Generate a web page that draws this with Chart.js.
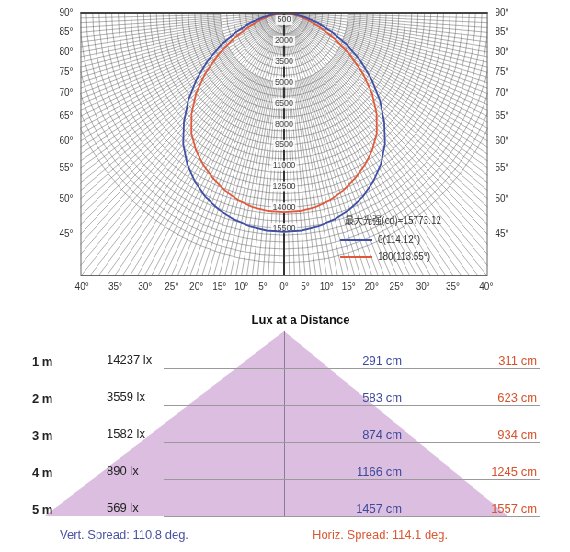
<!DOCTYPE html>
<html>
<head>
<meta charset="utf-8">
<script src="https://cdn.jsdelivr.net/npm/chart.js@4.4.1/dist/chart.umd.min.js"></script>
<style>
  html, body { margin: 0; padding: 0; background: #fff; overflow: hidden; }
  /* the source picture is squeezed horizontally, so draw wide and squeeze */
  #wrap { position: absolute; left: 0; top: 0; width: 620px; height: 552px; overflow: hidden;
          transform: scaleX(0.91935); transform-origin: 0 0; }
  #polar { position: absolute; left: -38px; top: -334px; width: 694px; height: 694px; }
  #lux { position: absolute; left: 0; top: 300px; width: 620px; height: 252px; }
</style>
</head>
<body>
<div id="wrap">
  <canvas id="polar" width="694" height="694"></canvas>
  <canvas id="lux" width="620" height="252"></canvas>
</div>
<script>
// polar curves, cd by angle from nadir
const angles = [0, 5, 10, 15, 20, 25, 30, 35, 40, 45, 50, 55, 60, 65, 70, 75, 80, 85, 90];
const c0Cd   = [15773, 15730, 15600, 15380, 15050, 14600, 14000, 13250, 12300, 11100, 9800, 8400, 6950, 5450, 4000, 2750, 1700, 800, 100];
const c180Cd = [14350, 14320, 14200, 13950, 13600, 13150, 12650, 12050, 11300, 10250, 9000, 7500, 5900, 4350, 3000, 1950, 1150, 550, 80];
const maxCd = 15773.12;
const beamC0 = '114.12', beamC180 = '113.55';
const radialLabels = [500, 2000, 3500, 5000, 6500, 8000, 9500, 11000, 12500, 14000, 15500];
const sideAngles = [90, 85, 80, 75, 70, 65, 60, 55, 50, 45];
const bottomAngles = [40, 35, 30, 25, 20, 15, 10, 5, 0];

// lux at a distance table
const distances = [1, 2, 3, 4, 5];
const luxValues = [14237, 3559, 1582, 890, 569];
const vertCm = [291, 583, 874, 1166, 1457];
const horizCm = [311, 623, 934, 1245, 1557];
const vertSpread = '110.8', horizSpread = '114.1';

const FONT = '"Liberation Sans", Arial, sans-serif';
const gridCol = 'rgba(100,100,100,0.5)';
const blue = '#3f4ea6', red = '#e2583a';

const spokeStep = 1.25;
const nSpokes = 360 / spokeStep;
const spokes = Array.from({length: nSpokes}, (_, i) => i * spokeStep);

// same curve on both sides of the nadir
function mirror(values) {
  const out = spokes.map(() => null);
  angles.forEach((a, j) => {
    const k = Math.round(a / spokeStep);
    out[k] = values[j];
    out[(nSpokes - k) % nSpokes] = values[j];
  });
  return out;
}

const FRAME_HALF_W = 221.5, FRAME_TOP = -1, FRAME_BOTTOM = 262;

const polarDecor = {
  id: 'polarDecor',
  beforeDraw(chart) {
    const r = chart.scales.r, ctx = chart.ctx;
    ctx.save();
    ctx.beginPath();
    ctx.rect(r.xCenter - FRAME_HALF_W, r.yCenter + FRAME_TOP, 2 * FRAME_HALF_W, FRAME_BOTTOM - FRAME_TOP);
    ctx.clip();
  },
  beforeDatasetsDraw(chart) {
    const r = chart.scales.r, ctx = chart.ctx;
    const xc = r.xCenter, yc = r.yCenter;
    ctx.save();
    // finer spokes start further from the pole
    const rHalf = r.getDistanceFromCenterForValue(1500);
    const rQuarter = r.getDistanceFromCenterForValue(5000);
    ctx.strokeStyle = gridCol;
    ctx.lineWidth = 1;
    spokes.forEach((s, i) => {
      if (i % 4 === 0) return;
      const p0 = r.getPointPosition(i, i % 2 === 0 ? rHalf : rQuarter);
      const p1 = r.getPointPosition(i, r.drawingArea);
      ctx.beginPath();
      ctx.moveTo(p0.x, p0.y);
      ctx.lineTo(p1.x, p1.y);
      ctx.stroke();
    });
    ctx.strokeStyle = '#333';
    ctx.lineWidth = 2;
    ctx.beginPath();
    ctx.moveTo(xc, yc);
    ctx.lineTo(xc, yc + FRAME_BOTTOM);
    ctx.stroke();
    ctx.font = '9px ' + FONT;
    ctx.textAlign = 'center';
    ctx.textBaseline = 'middle';
    radialLabels.forEach(v => {
      const py = yc + r.getDistanceFromCenterForValue(v);
      const w = ctx.measureText(String(v)).width;
      ctx.fillStyle = 'rgba(255,255,255,0.85)';
      ctx.fillRect(xc - w / 2 - 2, py - 5, w + 4, 10);
      ctx.fillStyle = '#444';
      ctx.fillText(String(v), xc, py);
    });
    ctx.restore();
  },
  afterDatasetsDraw(chart) {
    const r = chart.scales.r, ctx = chart.ctx;
    ctx.restore();
    const xc = r.xCenter, yc = r.yCenter;
    ctx.save();
    // frame
    ctx.strokeStyle = '#666';
    ctx.lineWidth = 1;
    ctx.strokeRect(xc - FRAME_HALF_W + 0.5, yc + FRAME_TOP + 0.5, 2 * FRAME_HALF_W - 1, FRAME_BOTTOM - FRAME_TOP);
    ctx.strokeStyle = '#444';
    ctx.lineWidth = 2;
    ctx.beginPath();
    ctx.moveTo(xc - FRAME_HALF_W, yc);
    ctx.lineTo(xc + FRAME_HALF_W, yc);
    ctx.stroke();

    // angle labels where the spokes meet the frame
    ctx.fillStyle = '#333';
    ctx.font = '10px ' + FONT;
    ctx.textAlign = 'center';
    ctx.textBaseline = 'middle';
    sideAngles.forEach(a => {
      const t = a * Math.PI / 180;
      const py = a === 90 ? yc : yc + FRAME_HALF_W / Math.tan(t);
      ctx.fillText(a + '°', xc - 237, py);
      ctx.fillText(a + '°', xc + 237, py);
    });
    bottomAngles.forEach(a => {
      const dx = FRAME_BOTTOM * Math.tan(a * Math.PI / 180);
      ctx.fillText(a + '°', xc - dx, yc + 274);
      if (a !== 0) ctx.fillText(a + '°', xc + dx, yc + 274);
    });

    // legend
    ctx.textAlign = 'left';
    ctx.font = '10px "Noto Sans CJK SC", ' + FONT;
    ctx.fillStyle = '#333';
    ctx.fillText('最大光强(cd)=' + maxCd, xc + 66, yc + 207);
    ctx.font = '10px ' + FONT;
    [[blue, '0(' + beamC0 + '°)', 227], [red, '180(' + beamC180 + '°)', 244]].forEach(([col, txt, dy]) => {
      ctx.strokeStyle = col;
      ctx.lineWidth = 2;
      ctx.beginPath();
      ctx.moveTo(xc + 61, yc + dy);
      ctx.lineTo(xc + 96, yc + dy);
      ctx.stroke();
      ctx.fillStyle = '#333';
      ctx.fillText(txt, xc + 102, yc + dy);
    });
    ctx.restore();
  }
};

new Chart(document.getElementById('polar'), {
  type: 'radar',
  data: {
    labels: spokes,
    datasets: [
      { label: '0', data: mirror(c0Cd), borderColor: blue, borderWidth: 1.8, pointRadius: 0, fill: false, spanGaps: true },
      { label: '180', data: mirror(c180Cd), borderColor: red, borderWidth: 1.8, pointRadius: 0, fill: false, spanGaps: true }
    ]
  },
  options: {
    responsive: false,
    animation: false,
    devicePixelRatio: 1,
    layout: { padding: 0 },
    elements: { line: { tension: 0 } },
    plugins: { legend: { display: false }, tooltip: { enabled: false } },
    scales: {
      r: {
        min: 0,
        max: 25000,
        startAngle: 180,
        ticks: { display: false, stepSize: 500 },
        pointLabels: { display: false },
        grid: {
          circular: true,
          lineWidth: 1,
          color: c => (c.tick && c.tick.value <= 18000 ? gridCol : 'rgba(0,0,0,0)')
        },
        angleLines: {
          lineWidth: 1,
          color: c => (c.index % 4 === 0 ? gridCol : 'rgba(0,0,0,0)')
        }
      }
    }
  },
  plugins: [polarDecor]
});

// ---- lux at a distance ----
// cone edges: horizontal spread on the left, vertical on the right (m at 5 m)
const coneLeft = horizCm[horizCm.length - 1] / 200;
const coneRight = vertCm[vertCm.length - 1] / 200;

const luxDecor = {
  id: 'luxDecor',
  afterDatasetsDraw(chart) {
    const {ctx, scales: {x, y}} = chart;
    ctx.save();
    const x0 = x.getPixelForValue(0);
    ctx.strokeStyle = '#8c7c92';
    ctx.lineWidth = 1;
    ctx.beginPath();
    ctx.moveTo(Math.round(x0) + 0.5, y.getPixelForValue(0));
    ctx.lineTo(Math.round(x0) + 0.5, y.getPixelForValue(5));
    ctx.stroke();

    ctx.textBaseline = 'middle';
    ctx.fillStyle = '#111';
    ctx.textAlign = 'center';
    ctx.font = 'bold 13px ' + FONT;
    ctx.fillText('Lux at a Distance', 327, 20);

    distances.forEach((d, i) => {
      const py = Math.round(y.getPixelForValue(d)) + 0.5;
      ctx.strokeStyle = '#9a9a9a';
      ctx.beginPath();
      ctx.moveTo(178, py);
      ctx.lineTo(587, py);
      ctx.stroke();
      const ty = py - 7;
      ctx.textAlign = 'left';
      ctx.fillStyle = '#222';
      ctx.font = 'bold 13px ' + FONT;
      ctx.fillText(d + ' m', 35, ty + 1);
      ctx.font = '13px ' + FONT;
      ctx.fillText(luxValues[i] + ' lx', 116, ty - 1);
      ctx.textAlign = 'right';
      ctx.fillStyle = '#3d4a9a';
      ctx.fillText(vertCm[i] + ' cm', 437, ty);
      ctx.fillStyle = '#d5532c';
      ctx.fillText(horizCm[i] + ' cm', 584, ty);
    });

    ctx.textAlign = 'left';
    ctx.font = '13px ' + FONT;
    ctx.fillStyle = '#4a53a0';
    ctx.fillText('Vert. Spread: ' + vertSpread + ' deg.', 65, 235);
    ctx.fillStyle = '#d85a35';
    ctx.fillText('Horiz. Spread: ' + horizSpread + ' deg.', 340, 235);
    ctx.restore();
  }
};

new Chart(document.getElementById('lux'), {
  type: 'scatter',
  data: {
    datasets: [{
      data: [{x: -coneLeft, y: 5}, {x: 0, y: 0}, {x: coneRight, y: 5}],
      showLine: true,
      fill: {value: 5},
      backgroundColor: '#dcbfe0',
      borderColor: 'rgba(0,0,0,0)',
      borderWidth: 0,
      pointRadius: 0
    }]
  },
  options: {
    responsive: false,
    animation: false,
    devicePixelRatio: 1,
    layout: { padding: {left: 13, right: 15, top: 31, bottom: 36} },
    plugins: { legend: { display: false }, tooltip: { enabled: false } },
    scales: {
      x: { type: 'linear', min: -8.86, max: 8.86, display: false },
      y: { type: 'linear', min: 0, max: 5, reverse: true, display: false }
    }
  },
  plugins: [luxDecor]
});
</script>
</body>
</html>
